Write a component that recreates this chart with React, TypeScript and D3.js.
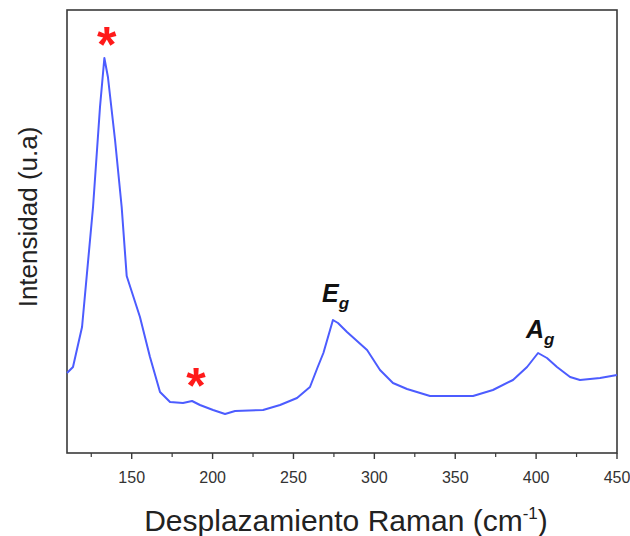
import React from "react";
import * as d3 from "d3";

const ramanShift = [110, 113.7, 119.3, 126.1, 130.4, 133.1, 135.3, 139.7, 143.8, 146.9, 155.1, 161.3, 167.5, 173.7, 181.7, 187.3, 192.2, 200.3, 207.7, 213.9, 231.2, 241.7, 252.2, 260.2, 265, 268.5, 274.4, 277.5, 283.1, 295.5, 303.5, 311.5, 320.2, 334.4, 361, 373.3, 385.7, 394.4, 401.2, 406.7, 412.9, 421, 427.1, 439.5, 450];
const intensity = [80, 86, 126, 246, 346, 395, 376, 313, 246, 177, 136, 96, 61, 51, 50, 52, 48, 43, 39, 42, 43, 48, 55, 66, 86, 100, 133, 130, 121, 103, 83, 70, 64, 57, 57, 63, 73, 86, 100, 95, 86, 76, 73, 75, 78];

const majorTicks = [150, 200, 250, 300, 350, 400, 450];
const minorTicks = [125, 175, 225, 275, 325, 375, 425];

const starX = [134.5, 189.7];
const starY = [415, 74];

const peakMain = ["E", "A"];
const peakSub = ["g", "g"];
const peakX = [267.6, 393.7];
const peakY = [151, 115];

const W = 630;
const H = 536;
const margin = { left: 67, right: 13, top: 10, bottom: 83 };

export default function App() {
  const x = d3.scaleLinear().domain([110, 450]).range([margin.left, W - margin.right]);
  const y = d3.scaleLinear().domain([0, 443]).range([H - margin.bottom, margin.top]);
  const pts = ramanShift.map((d, i) => [d, intensity[i]] as [number, number]);
  const line = d3.line<[number, number]>().x(d => x(d[0])).y(d => y(d[1]));
  const x0 = margin.left, x1 = W - margin.right, y0 = H - margin.bottom, y1 = margin.top;
  const font = "'Liberation Sans', Arial, sans-serif";
  return (
    <svg width={W} height={H} style={{ position: "absolute", left: 0, top: 0, background: "#fff" }} fontFamily={font}>
      <rect x={x0} y={y1} width={x1 - x0} height={y0 - y1} fill="none" stroke="#3a3a3a" strokeWidth={1.6} />
      {majorTicks.map(t => (
        <g key={"M" + t}>
          <line x1={x(t)} x2={x(t)} y1={y0} y2={y0 + 6} stroke="#3a3a3a" strokeWidth={1.4} />
          <text x={x(t)} y={y0 + 30} textAnchor="middle" fontSize={16} fill="#333">{t}</text>
        </g>
      ))}
      {minorTicks.map(t => (
        <line key={"m" + t} x1={x(t)} x2={x(t)} y1={y0} y2={y0 + 4} stroke="#3a3a3a" strokeWidth={1.2} />
      ))}
      <path d={line(pts) || ""} fill="none" stroke="#4c5cff" strokeWidth={2} strokeLinejoin="round" />
      {starX.map((sx, i) => (
        <text key={"s" + i} x={x(sx)} y={y(starY[i]) + 24} textAnchor="middle" fontSize={50} fontWeight="bold" fill="#ff1a1a">*</text>
      ))}
      {peakMain.map((m, i) => (
        <text key={"p" + i} x={x(peakX[i])} y={y(peakY[i])} fontSize={25} fontWeight="bold" fontStyle="italic" fill="#111">
          {m}
          <tspan fontSize={17} dy={7}>{peakSub[i]}</tspan>
        </text>
      ))}
      <text x={346} y={531} textAnchor="middle" fontSize={30} fill="#222">
        Desplazamiento Raman (cm
        <tspan fontSize={17} dy={-12}>-1</tspan>
        <tspan dy={12}>)</tspan>
      </text>
      <text transform={`translate(37, 217) rotate(-90)`} textAnchor="middle" fontSize={26} fill="#222">Intensidad (u.a)</text>
    </svg>
  );
}
